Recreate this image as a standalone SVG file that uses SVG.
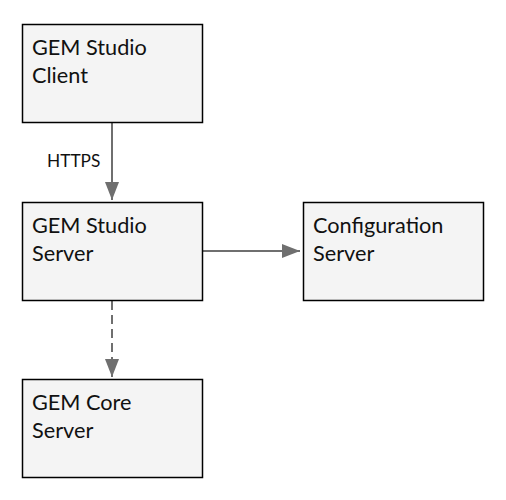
<svg xmlns="http://www.w3.org/2000/svg" width="506" height="500" viewBox="0 0 506 500">
<style>
.box{fill:#f4f4f4;stroke:#000;stroke-width:1.5}
.t{font-family:Lato,"Open Sans",sans-serif;font-size:21.7px;fill:#111}
.lbl{font-family:Lato,"Open Sans",sans-serif;font-size:17.3px;fill:#111}
.c{stroke:#6f6f6f;stroke-width:2;fill:none}
</style>
<defs>
<marker id="ah" markerUnits="userSpaceOnUse" markerWidth="20" markerHeight="16" refX="18" refY="7" orient="auto">
<path d="M0,0 L18,7 L0,14 Z" fill="#6f6f6f"/>
</marker>
</defs>
<rect width="506" height="500" fill="#fff"/>
<g id="connectors">
<line class="c" x1="112" y1="123" x2="112" y2="200" marker-end="url(#ah)"/>
<text class="lbl" x="47" y="167">HTTPS</text>
<line class="c" x1="203" y1="251" x2="300" y2="251" marker-end="url(#ah)"/>
<line class="c" x1="112" y1="301" x2="112" y2="377" stroke-dasharray="9,5" marker-end="url(#ah)"/>
</g>
<g id="client">
<rect class="box" x="22.5" y="24.5" width="180" height="98"/>
<text class="t" x="32" y="55">GEM Studio</text>
<text class="t" x="32" y="83">Client</text>
</g>
<g id="studio-server">
<rect class="box" x="22.5" y="202.5" width="180" height="98"/>
<text class="t" x="32" y="233">GEM Studio</text>
<text class="t" x="32" y="261">Server</text>
</g>
<g id="config-server">
<rect class="box" x="303.5" y="202.5" width="180" height="98"/>
<text class="t" x="313" y="233">Configuration</text>
<text class="t" x="313" y="261">Server</text>
</g>
<g id="core-server">
<rect class="box" x="22.5" y="379.5" width="180" height="98"/>
<text class="t" x="32" y="410">GEM Core</text>
<text class="t" x="32" y="438">Server</text>
</g>
</svg>
